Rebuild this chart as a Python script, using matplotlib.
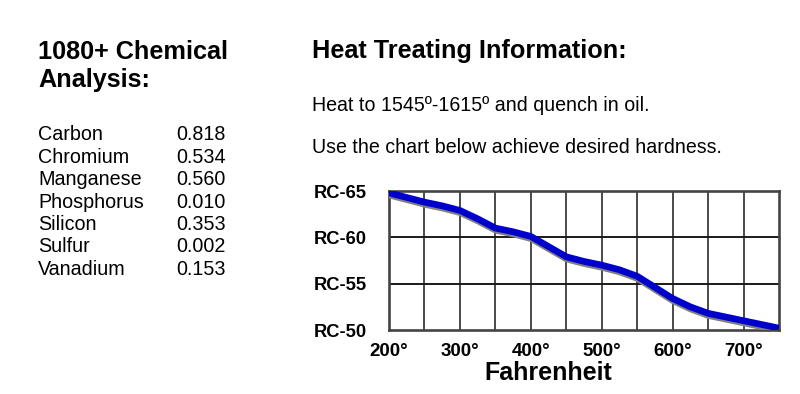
import matplotlib
matplotlib.use("Agg")
import matplotlib.pyplot as plt
import matplotlib.patheffects as pe

plt.rcParams['font.family'] = ['Liberation Sans', 'DejaVu Sans']

# chemical analysis table
elements = ['Carbon', 'Chromium', 'Manganese', 'Phosphorus', 'Silicon', 'Sulfur', 'Vanadium']
percent = ['0.818', '0.534', '0.560', '0.010', '0.353', '0.002', '0.153']

# tempering curve
temps = [200, 225, 250, 275, 300, 325, 350, 375, 400, 425, 450, 475,
         500, 525, 550, 575, 600, 625, 650, 675, 700, 725, 750]
hardness = [64.8, 64.3, 63.8, 63.4, 62.9, 62.0, 61.0, 60.6, 60.1, 59.0, 57.9, 57.4,
            57.0, 56.5, 55.8, 54.6, 53.4, 52.5, 51.8, 51.4, 51.0, 50.6, 50.2]

xticks = [200, 300, 400, 500, 600, 700]
xlabels = ['200°', '300°', '400°', '500°', '600°', '700°']
yticks = [50, 55, 60, 65]
ylabels = ['RC-50', 'RC-55', 'RC-60', 'RC-65']

W, H = 800, 394
fig = plt.figure(figsize=(W / 100, H / 100), dpi=100)


def fy(px):
    return 1 - px / H


# left column
fig.text(38 / W, fy(59), '1080+ Chemical', fontsize=18.2, fontweight='bold', va='baseline')
fig.text(38 / W, fy(87), 'Analysis:', fontsize=18.2, fontweight='bold', va='baseline')
for i, (name, val) in enumerate(zip(elements, percent)):
    y = fy(140 + i * 22.5)
    fig.text(38 / W, y, name, fontsize=14.2, va='baseline')
    fig.text(176 / W, y, val, fontsize=14.2, va='baseline')

# right column text
fig.text(312 / W, fy(58), 'Heat Treating Information:', fontsize=18.2, fontweight='bold', va='baseline')
fig.text(312 / W, fy(111), 'Heat to 1545º-1615º and quench in oil.', fontsize=14.1, va='baseline')
fig.text(312 / W, fy(153), 'Use the chart below achieve desired hardness.', fontsize=14.1, va='baseline')

# chart
ax = fig.add_axes([389 / W, fy(330), (779 - 389) / W, (330 - 191) / H])
ax.set_xlim(200, 750)
ax.set_ylim(50, 65)

for xv in range(250, 750, 50):
    ax.axvline(xv, color='#4a4a4a', lw=1.4, zorder=1)
for yv in [55, 60]:
    ax.axhline(yv, color='#1a1a1a', lw=1.4, zorder=1)

ax.plot(temps, hardness, color='#0000cc', lw=4.8, solid_capstyle='butt',
        solid_joinstyle='round', zorder=3,
        path_effects=[pe.SimpleLineShadow(offset=(0.3, -1.6), shadow_color='#808080', alpha=1),
                      pe.Normal()])

ax.set_xticks(xticks)
ax.set_xticklabels(xlabels, fontsize=13.5, fontweight='bold')
ax.set_yticks(yticks)
ax.set_yticklabels(ylabels, fontsize=13.2, fontweight='bold')
ax.tick_params(length=0)
ax.tick_params(axis='y', pad=16)
ax.tick_params(axis='x', pad=9.5)
for sp in ax.spines.values():
    sp.set_color('#444444')
    sp.set_linewidth(1.9)

fig.text(548 / W, fy(380), 'Fahrenheit', fontsize=18, fontweight='bold', ha='center', va='baseline')

fig.savefig('out.png', dpi=100)
